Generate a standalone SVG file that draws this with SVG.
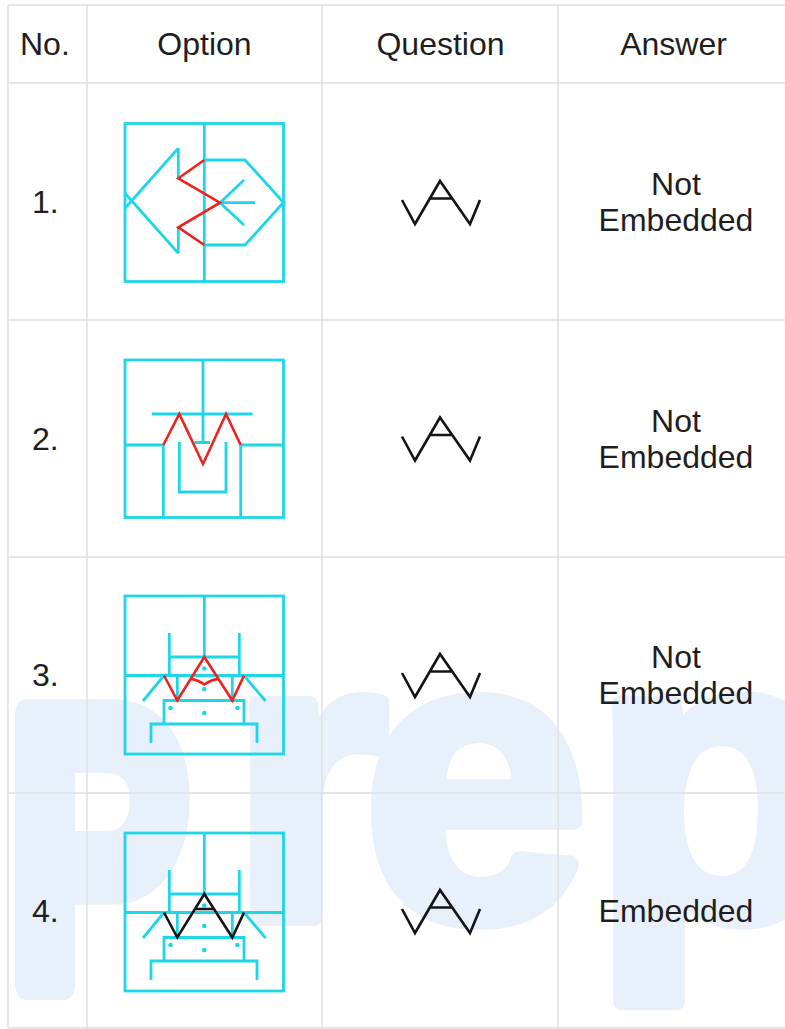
<svg xmlns="http://www.w3.org/2000/svg" xmlns:xlink="http://www.w3.org/1999/xlink" width="785" height="1029" viewBox="0 0 785 1029">
<style>
.wm{font-family:"Liberation Sans",Arial,sans-serif;font-weight:700;fill:#e8f0fb;stroke:#e8f0fb;stroke-linejoin:round}
.grid{stroke:#e0e0e2;stroke-width:1.5;fill:none}
.cy{stroke:#1ed6e8;stroke-width:2.8;fill:none}
.rd{stroke:#f0201e;stroke-width:2.6;fill:none}
.bk{stroke:#141414;stroke-width:2.6;fill:none}
.dot{fill:#1ed6e8}
.t{font-family:"Liberation Sans",Arial,sans-serif;font-size:32px;fill:#1e1e1e}
.m{text-anchor:middle}
</style>
<defs>
<g id="q">
<path class="bk" d="M402 -2 L415 22 L440 -21 L470 22 L480 -2 M429.8 -3.5 H452.2"/>
</g>
<g id="scaffold">
<rect class="cy" x="0" y="0" width="158.5" height="158"/>
<path class="cy" d="M79.3 0 V61 M44.3 37 V79.5 M114.3 37 V79.5 M44.3 61 H114.3 M0 79.5 H158.5 M52.3 79.5 V104.5 M107.3 79.5 V104.5 M39 79.5 L18 105 M119 79.5 L140.5 105 M39 128 V104.5 H119 V128 M26 147 V128 H132 V147"/>
<circle class="dot" cx="79.3" cy="72.5" r="2.3"/>
<circle class="dot" cx="79.3" cy="93" r="2.3"/>
<circle class="dot" cx="45.5" cy="112" r="2.3"/>
<circle class="dot" cx="79.3" cy="117" r="2.3"/>
<circle class="dot" cx="112.5" cy="112" r="2.3"/>
</g>
</defs>
<rect x="0" y="0" width="785" height="1029" fill="#ffffff"/>
<g id="watermark">
<text class="wm" font-size="394" stroke-width="30" transform="translate(28,985) scale(0.69,1)" x="-30" y="0">P</text>
<text class="wm" font-size="405" stroke-width="16" x="230 363 593" y="918">rep</text>
</g>
<g id="table-grid">
<path class="grid" d="M8 5 H785 M8 83 H785 M8 320 H785 M8 557 H785 M8 793 H785 M8 1028 H785 M8 5 V1028 M87 5 V1028 M322 5 V1028 M558 5 V1028"/>
</g>
<g id="header">
<text class="t" x="20" y="55">No.</text>
<text class="t m" x="204.5" y="55">Option</text>
<text class="t m" x="440.5" y="55">Question</text>
<text class="t m" x="673.5" y="55">Answer</text>
</g>
<g id="row-1">
<text class="t" x="32" y="213">1.</text>
<g id="option-1">
<rect class="cy" x="125" y="123.5" width="158.5" height="158"/>
<path class="cy" d="M204.3 123.5 V281.5 M178.3 148.3 V178.3 M178.3 227.3 V253.3 M178.3 148.3 L125 208.3 M178.3 253.3 L125 193.3 M204.3 160 H245 L283.5 202.5 L245 245 H204.3 M220 202.7 H255 M220 202.7 L244 180 M220 202.7 L244 225"/>
<path class="rd" d="M204.3 160 L178.3 178.3 L220 202.7 L178.3 227.3 L204.3 245"/>
</g>
<use xlink:href="#q" href="#q" transform="translate(0,202)"/>
<text class="t m" x="676" y="195">Not</text>
<text class="t m" x="676" y="231">Embedded</text>
</g>
<g id="row-2">
<text class="t" x="32" y="449.5">2.</text>
<g id="option-2">
<rect class="cy" x="125" y="360" width="158.5" height="157.5"/>
<path class="cy" d="M203 360 V442.5 M194.3 442.5 H210 M151.7 414 H252.7 M125 445 H163.3 V517.5 M283.5 445 H240.7 V517.5 M179.3 442 V492 H226 V442"/>
<path class="rd" d="M163.3 445 L179.3 414 L203 464 L226 414 L240.7 445"/>
</g>
<use xlink:href="#q" href="#q" transform="translate(0,438.5)"/>
<text class="t m" x="676" y="431.5">Not</text>
<text class="t m" x="676" y="467.5">Embedded</text>
</g>
<g id="row-3">
<text class="t" x="32" y="686">3.</text>
<g id="option-3" transform="translate(125,596)">
<use xlink:href="#scaffold" href="#scaffold"/>
<path class="rd" d="M39 79.5 L52.3 104.5 L79.3 61 L107.3 104.5 L119 79.5 M65.8 82.8 Q73 84 79.3 88.5 Q86 84 93.3 82.8"/>
</g>
<use xlink:href="#q" href="#q" transform="translate(0,675)"/>
<text class="t m" x="676" y="668">Not</text>
<text class="t m" x="676" y="704">Embedded</text>
</g>
<g id="row-4">
<text class="t" x="32" y="922">4.</text>
<g id="option-4" transform="translate(125,833)">
<use xlink:href="#scaffold" href="#scaffold"/>
<path class="bk" d="M39 79.5 L52.3 104.5 L79.3 61 L107.3 104.5 L119 79.5 M70 76 H89"/>
</g>
<use xlink:href="#q" href="#q" transform="translate(0,911)"/>
<text class="t m" x="676" y="922">Embedded</text>
</g>
</svg>
